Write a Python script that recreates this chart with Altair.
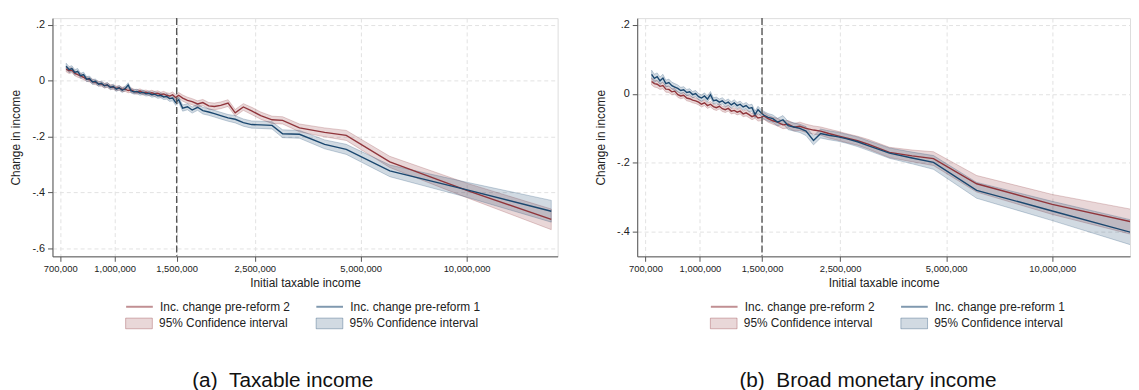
import altair as alt
import pandas as pd

FONT = "Liberation Sans"
MAROON = "#90353b"
NAVY = "#1a476f"
MAROON_FILL = "rgba(144,53,59,0.2)"
NAVY_FILL = "rgba(26,71,111,0.2)"
MAROON_EDGE = "rgba(144,53,59,0.35)"
NAVY_EDGE = "rgba(26,71,111,0.35)"

# shared axis ticks and the reform threshold
x_ticks = [700000, 1000000, 1500000, 2500000, 5000000, 10000000]
cutoff_income = [1500000]

# ---------------- (a) Taxable income ----------------
# initial income bins, thousands
inc_a = [728, 742, 756, 770, 785, 800, 816, 832, 848, 865,
         882, 899, 917, 935, 953, 972, 991, 1010, 1030, 1050,
         1071, 1092, 1113, 1135, 1157, 1180, 1203, 1227, 1251, 1275,
         1300, 1326, 1352, 1378, 1405, 1433, 1461, 1490, 1520, 1560,
         1610, 1660, 1720, 1780, 1850, 1920, 2000, 2100, 2200, 2320,
         2450, 2600, 2800, 3000, 3350, 3950, 4550, 6050, 10100, 17400]
pre2_a = [0.042, 0.036, 0.038, 0.027, 0.022, 0.018, 0.012, 0.006, 0.004, -0.003,
          -0.006, -0.010, -0.012, -0.017, -0.016, -0.022, -0.023, -0.027, -0.026, -0.031,
          -0.030, -0.035, -0.033, -0.038, -0.040, -0.037, -0.043, -0.041, -0.045, -0.043,
          -0.047, -0.045, -0.050, -0.047, -0.052, -0.055, -0.050, -0.060, -0.052, -0.062,
          -0.070, -0.075, -0.083, -0.078, -0.090, -0.092, -0.088, -0.080, -0.115, -0.094,
          -0.108, -0.125, -0.140, -0.142, -0.169, -0.185, -0.196, -0.291, -0.395, -0.497]
pre1_a = [0.052, 0.040, 0.044, 0.030, 0.034, 0.018, 0.022, 0.006, 0.008, -0.004,
          -0.002, -0.012, -0.009, -0.018, -0.014, -0.024, -0.020, -0.030, -0.025, -0.034,
          -0.028, -0.015, -0.036, -0.040, -0.038, -0.044, -0.041, -0.047, -0.045, -0.050,
          -0.048, -0.054, -0.052, -0.058, -0.056, -0.064, -0.062, -0.078, -0.068, -0.098,
          -0.093, -0.105, -0.095, -0.107, -0.112, -0.118, -0.125, -0.133, -0.138, -0.150,
          -0.157, -0.158, -0.160, -0.190, -0.192, -0.228, -0.246, -0.323, -0.392, -0.468]
# half-widths of the 95% confidence intervals
ci2_a = [0.010, 0.010, 0.009, 0.009, 0.009, 0.009, 0.008, 0.008, 0.008, 0.008,
         0.008, 0.008, 0.008, 0.008, 0.008, 0.008, 0.008, 0.008, 0.008, 0.008,
         0.008, 0.008, 0.008, 0.008, 0.008, 0.008, 0.008, 0.008, 0.008, 0.009,
         0.009, 0.009, 0.009, 0.009, 0.009, 0.010, 0.010, 0.010, 0.010, 0.011,
         0.011, 0.011, 0.011, 0.011, 0.012, 0.012, 0.012, 0.012, 0.012, 0.012,
         0.013, 0.013, 0.013, 0.013, 0.014, 0.016, 0.018, 0.020, 0.026, 0.037]
ci1_a = [0.011, 0.011, 0.010, 0.010, 0.010, 0.009, 0.009, 0.009, 0.009, 0.009,
         0.008, 0.008, 0.008, 0.008, 0.008, 0.008, 0.008, 0.008, 0.008, 0.008,
         0.008, 0.008, 0.008, 0.008, 0.008, 0.008, 0.008, 0.008, 0.008, 0.009,
         0.009, 0.009, 0.009, 0.009, 0.010, 0.010, 0.010, 0.010, 0.010, 0.011,
         0.011, 0.011, 0.011, 0.012, 0.012, 0.012, 0.012, 0.012, 0.013, 0.013,
         0.013, 0.013, 0.013, 0.014, 0.014, 0.016, 0.018, 0.021, 0.027, 0.039]
y_ticks_a = [0.2, 0.0, -0.2, -0.4, -0.6]

# ---------------- (b) Broad monetary income ----------------
inc_b = [729, 742, 756, 770, 785, 800, 816, 832, 848, 865,
         882, 899, 917, 935, 953, 972, 991, 1010, 1030, 1050,
         1071, 1092, 1113, 1135, 1157, 1180, 1203, 1227, 1251, 1275,
         1300, 1326, 1352, 1378, 1405, 1433, 1461, 1490, 1520, 1560,
         1610, 1660, 1720, 1780, 1850, 1920, 2000, 2100, 2200, 2320,
         2450, 2600, 2800, 3000, 3450, 4000, 4600, 6100, 10000, 17400]
pre2_b = [0.036, 0.030, 0.028, 0.022, 0.024, 0.014, 0.013, 0.006, 0.008, -0.002,
          -0.006, -0.004, -0.012, -0.014, -0.018, -0.020, -0.024, -0.030, -0.026, -0.034,
          -0.030, -0.037, -0.040, -0.036, -0.043, -0.046, -0.042, -0.050, -0.048, -0.053,
          -0.050, -0.058, -0.055, -0.060, -0.066, -0.062, -0.070, -0.068, -0.064, -0.072,
          -0.078, -0.082, -0.090, -0.088, -0.097, -0.094, -0.100, -0.105, -0.108, -0.115,
          -0.121, -0.128, -0.136, -0.146, -0.170, -0.180, -0.188, -0.261, -0.321, -0.375]
pre1_b = [0.057, 0.045, 0.050, 0.038, 0.046, 0.030, 0.033, 0.024, 0.020, 0.016,
          0.010, 0.012, 0.004, 0.006, -0.002, 0.001, -0.008, -0.012, -0.006, -0.015,
          -0.002, -0.020, -0.018, -0.024, -0.020, -0.028, -0.024, -0.032, -0.026, -0.034,
          -0.030, -0.038, -0.034, -0.042, -0.040, -0.060, -0.046, -0.055, -0.062, -0.068,
          -0.072, -0.082, -0.075, -0.092, -0.096, -0.100, -0.108, -0.135, -0.115, -0.120,
          -0.124, -0.130, -0.139, -0.150, -0.172, -0.186, -0.199, -0.280, -0.340, -0.407]
ci2_b = [0.010, 0.010, 0.010, 0.009, 0.009, 0.009, 0.009, 0.009, 0.008, 0.008,
         0.008, 0.008, 0.008, 0.008, 0.008, 0.008, 0.008, 0.008, 0.008, 0.008,
         0.008, 0.008, 0.008, 0.008, 0.008, 0.008, 0.008, 0.008, 0.008, 0.008,
         0.008, 0.008, 0.009, 0.009, 0.009, 0.009, 0.009, 0.010, 0.010, 0.010,
         0.010, 0.011, 0.011, 0.011, 0.011, 0.012, 0.012, 0.012, 0.012, 0.013,
         0.013, 0.013, 0.013, 0.014, 0.015, 0.017, 0.020, 0.024, 0.029, 0.037]
ci1_b = [0.012, 0.012, 0.011, 0.011, 0.011, 0.010, 0.010, 0.010, 0.010, 0.010,
         0.009, 0.009, 0.009, 0.009, 0.009, 0.009, 0.009, 0.009, 0.009, 0.009,
         0.009, 0.009, 0.009, 0.009, 0.009, 0.009, 0.009, 0.009, 0.009, 0.009,
         0.009, 0.009, 0.009, 0.010, 0.010, 0.010, 0.010, 0.010, 0.011, 0.011,
         0.011, 0.011, 0.012, 0.012, 0.012, 0.012, 0.013, 0.013, 0.013, 0.013,
         0.013, 0.013, 0.014, 0.014, 0.015, 0.017, 0.020, 0.023, 0.028, 0.037]
y_ticks_b = [0.2, 0.0, -0.2, -0.4]

Y_LABEL_EXPR = ("datum.value == 0 ? '0' : (datum.value < 0 ? '-' : '') + '.' + "
                "round(abs(datum.value) * 10)")

GRID = dict(grid=True, gridDash=[4, 3], gridColor="#e2e2e2", gridWidth=1)
AX = dict(domainColor="#555555", tickColor="#555555", tickSize=5, labelColor="#222222",
          labelFont=FONT, titleFont=FONT, titleColor="#222222", titleFontWeight="normal",
          titleFontSize=12, labelFlush=False, labelOverlap=False)
LEG = dict(orient="none", legendX=74.5, direction="horizontal", columns=2, title=None,
           labelFont=FONT, labelFontSize=12, labelColor="#222222", labelLimit=300,
           symbolSize=144, symbolOffset=6.5, labelOffset=13.8)

PLOT_H = 241


def make_panel(inc, pre2, pre1, ci2, ci1, y_ticks, x_dom, y_dom, width, caption, cap_dx, clip):
    xs = [v * 1000 for v in inc]
    n = len(xs)
    lines = pd.DataFrame({"income": xs + xs, "change": pre2 + pre1,
                          "series": ["l2"] * n + ["l1"] * n})
    bands = pd.DataFrame({"income": xs + xs, "mid": pre2 + pre1, "hw": ci2 + ci1,
                          "band": ["c2"] * n + ["c1"] * n})
    ref = pd.DataFrame({"income": cutoff_income})

    x_axis = alt.Axis(values=x_ticks, format=",d", title="Initial taxable income",
                      labelFontSize=9.5, labelPadding=2.5, titlePadding=5, **GRID, **AX)
    y_axis = alt.Axis(values=y_ticks, labelExpr=Y_LABEL_EXPR, title="Change in income",
                      labelFontSize=11, labelPadding=3, titleAngle=270, titleX=-33,
                      titleY=PLOT_H / 2, titleBaseline="alphabetic", titleAlign="center",
                      **GRID, **AX)
    x_scale = alt.Scale(type="log", domain=x_dom, nice=False)
    y_scale = alt.Scale(domain=y_dom, nice=False, zero=False)

    def X():
        return alt.X("income:Q", scale=x_scale, axis=x_axis)

    def Y(field):
        return alt.Y(field, scale=y_scale, axis=y_axis)

    line_legend = alt.Legend(
        legendY=285, labelExpr="datum.value == 'l2' ? 'Inc. change pre-reform 2' : 'Inc. change pre-reform 1'",
        symbolType="M-2.25,0H2.25", symbolStrokeWidth=2, symbolOpacity=0.55,
        columnPadding=22.4, **LEG)
    band_legend = alt.Legend(
        legendY=302.3, labelExpr="'95% Confidence interval'",
        symbolType="M-2.25,-0.9H2.25V0.9H-2.25Z", symbolStrokeWidth=1, symbolOpacity=1,
        columnPadding=25.7, **LEG)

    band_fill = alt.Fill("band:N", scale=alt.Scale(domain=["c2", "c1"], range=[MAROON_FILL, NAVY_FILL]),
                         legend=band_legend)
    band_stroke = alt.Stroke("band:N", scale=alt.Scale(domain=["c2", "c1"], range=[MAROON_EDGE, NAVY_EDGE]),
                             legend=band_legend)
    line_color = alt.Color("series:N", scale=alt.Scale(domain=["l2", "l1"], range=[MAROON, NAVY]),
                           legend=line_legend)

    area = alt.Chart(bands).transform_calculate(
        lo="datum.mid - datum.hw", hi="datum.mid + datum.hw"
    ).mark_area(strokeWidth=0.7, clip=clip).encode(
        x=X(), y=Y("lo:Q"), y2="hi:Q", fill=band_fill, stroke=band_stroke)
    line = alt.Chart(lines).mark_line(strokeWidth=1.4, clip=clip).encode(
        x=X(), y=Y("change:Q"), color=line_color)
    rule = alt.Chart(ref).mark_rule(color="#555555", strokeDash=[7, 3], strokeWidth=1.4).encode(
        x=X())

    return alt.layer(area, line, rule).properties(
        width=width, height=PLOT_H,
        title=alt.TitleParams(caption, orient="bottom", anchor="middle", frame="group",
                              dx=cap_dx, offset=40, font=FONT, fontSize=21,
                              fontWeight="normal", color="#111111"),
    )


panel_a = make_panel(inc_a, pre2_a, pre1_a, ci2_a, ci1_a, y_ticks_a,
                     [665600, 18140000], [-0.6298, 0.2248], 511,
                     "(a)\u00a0\u00a0Taxable income", -22.6, False)
panel_b = make_panel(inc_b, pre2_b, pre1_b, ci2_b, ci1_b, y_ticks_b,
                     [663500, 16620000], [-0.4718, 0.2201], 498.5,
                     "(b)\u00a0\u00a0Broad monetary income", -15.8, True)

chart = alt.hconcat(panel_a, panel_b, spacing=35.5).resolve_scale(
    color="independent", fill="independent", stroke="independent"
).resolve_legend(
    color="independent", fill="independent", stroke="independent"
).properties(
    padding={"left": 1, "top": 6, "right": 0, "bottom": 0},
    background="white",
).configure_view(strokeWidth=0).configure(font=FONT)

chart.save("out.html", embed_options={"renderer": "svg", "actions": False})
